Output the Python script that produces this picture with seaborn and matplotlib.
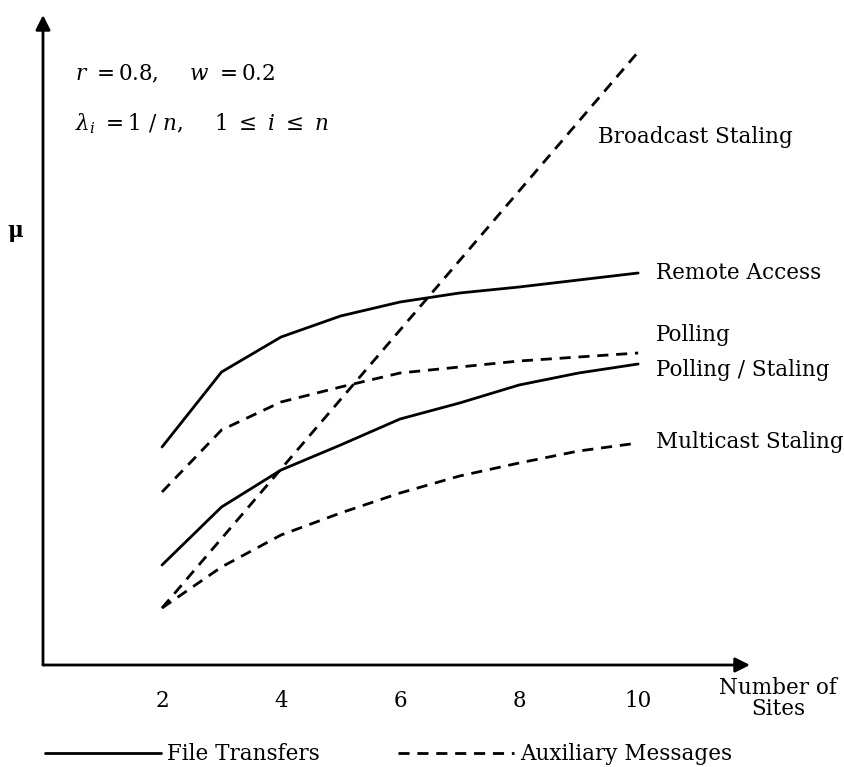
import matplotlib
matplotlib.use("Agg")
import matplotlib.pyplot as plt
from matplotlib.lines import Line2D
import pandas as pd
import seaborn as sns
import numpy as np

sns.set_theme(style="white")
plt.rcParams['font.family'] = ['DejaVu Serif']
plt.rcParams['mathtext.fontset'] = 'dejavuserif'
plt.rcParams['text.color'] = 'black'

# values (arbitrary units for mu)
sites = [2, 3, 4, 5, 6, 7, 8, 9, 10]
remote_access = [21.8, 29.3, 32.8, 34.9, 36.3, 37.2, 37.8, 38.5, 39.2]
polling = [17.3, 23.5, 26.3, 27.8, 29.2, 29.8, 30.4, 30.8, 31.2]
polling_staling = [10.0, 15.8, 19.5, 22.0, 24.6, 26.2, 28.0, 29.2, 30.1]
multicast = [5.7, 9.8, 13.0, 15.2, 17.2, 18.9, 20.2, 21.4, 22.2]
broadcast_sites = [2, 10]
broadcast = [5.7, 61.3]
mu_level = 43.7

rows = []
for name, kind, xs, ys in [
    ("Remote Access", "File Transfers", sites, remote_access),
    ("Polling", "Auxiliary Messages", sites, polling),
    ("Polling / Staling", "File Transfers", sites, polling_staling),
    ("Multicast Staling", "Auxiliary Messages", sites, multicast),
    ("Broadcast Staling", "Auxiliary Messages", broadcast_sites, broadcast),
]:
    for x, y in zip(xs, ys):
        rows.append({"series": name, "kind": kind, "n": x, "mu": y})
df = pd.DataFrame(rows)

dash = (4, 2.8)
fig = plt.figure(figsize=(8.45, 7.67), dpi=100)
ax = fig.add_axes([43/845, 102/767, 707/845, 650/767])

sns.lineplot(data=df, x="n", y="mu", units="series", estimator=None,
             style="kind", dashes={"File Transfers": "", "Auxiliary Messages": dash},
             color="black", lw=2, legend=False, ax=ax)

ax.set_xlim(0, 11.88)
ax.set_ylim(0, 65)
for s in ax.spines.values():
    s.set_visible(False)
arrow = dict(arrowstyle="-|>", color="black", lw=2, mutation_scale=22, shrinkA=0, shrinkB=0)
ax.annotate("", xy=(1, 0), xytext=(0, 0), xycoords="axes fraction", arrowprops=arrow)
ax.annotate("", xy=(0, 1), xytext=(0, 0), xycoords="axes fraction", arrowprops=arrow)

fs = 15.5
ax.set_xticks([2, 4, 6, 8, 10])
ax.set_yticks([mu_level])
ax.set_yticklabels(["μ"], fontweight="bold")
ax.tick_params(axis="both", direction="in", length=6, width=1.5, color="black",
               labelsize=fs, labelcolor="black")
ax.tick_params(axis="x", pad=18)
ax.tick_params(axis="y", pad=14)
ax.set_xlabel("")
ax.set_ylabel("")

labels = {"Broadcast Staling": (9.33, 52.8),
          "Remote Access": (10.3, 39.2),
          "Polling": (10.3, 33.0),
          "Polling / Staling": (10.3, 29.5),
          "Multicast Staling": (10.3, 22.3)}
for name, (x, y) in labels.items():
    ax.text(x, y, name, fontsize=fs, va="center", ha="left")
fig.text(778/845, 1 - 677/767, "Number of\nSites", fontsize=fs, ha="center", va="top",
         linespacing=0.95)

ax.text(0.045, 0.9, r"$r\ =0.8,\ \ \ \ w\ =0.2$", fontsize=fs, transform=ax.transAxes)
ax.text(0.045, 0.823, r"$\lambda_i\ =1\ /\ n,\ \ \ \ 1\ \leq\ i\ \leq\ n$", fontsize=fs,
        transform=ax.transAxes)

handles = [Line2D([], [], color="black", lw=2),
           Line2D([], [], color="black", lw=2, dashes=dash)]
fig.legend(handles, ["File Transfers", "Auxiliary Messages"], loc="lower left",
           bbox_to_anchor=(0.03, -0.023), ncol=2, frameon=False, fontsize=fs,
           handlelength=5.4, handletextpad=0.3, columnspacing=3.6)

fig.savefig("out.png", dpi=100)
